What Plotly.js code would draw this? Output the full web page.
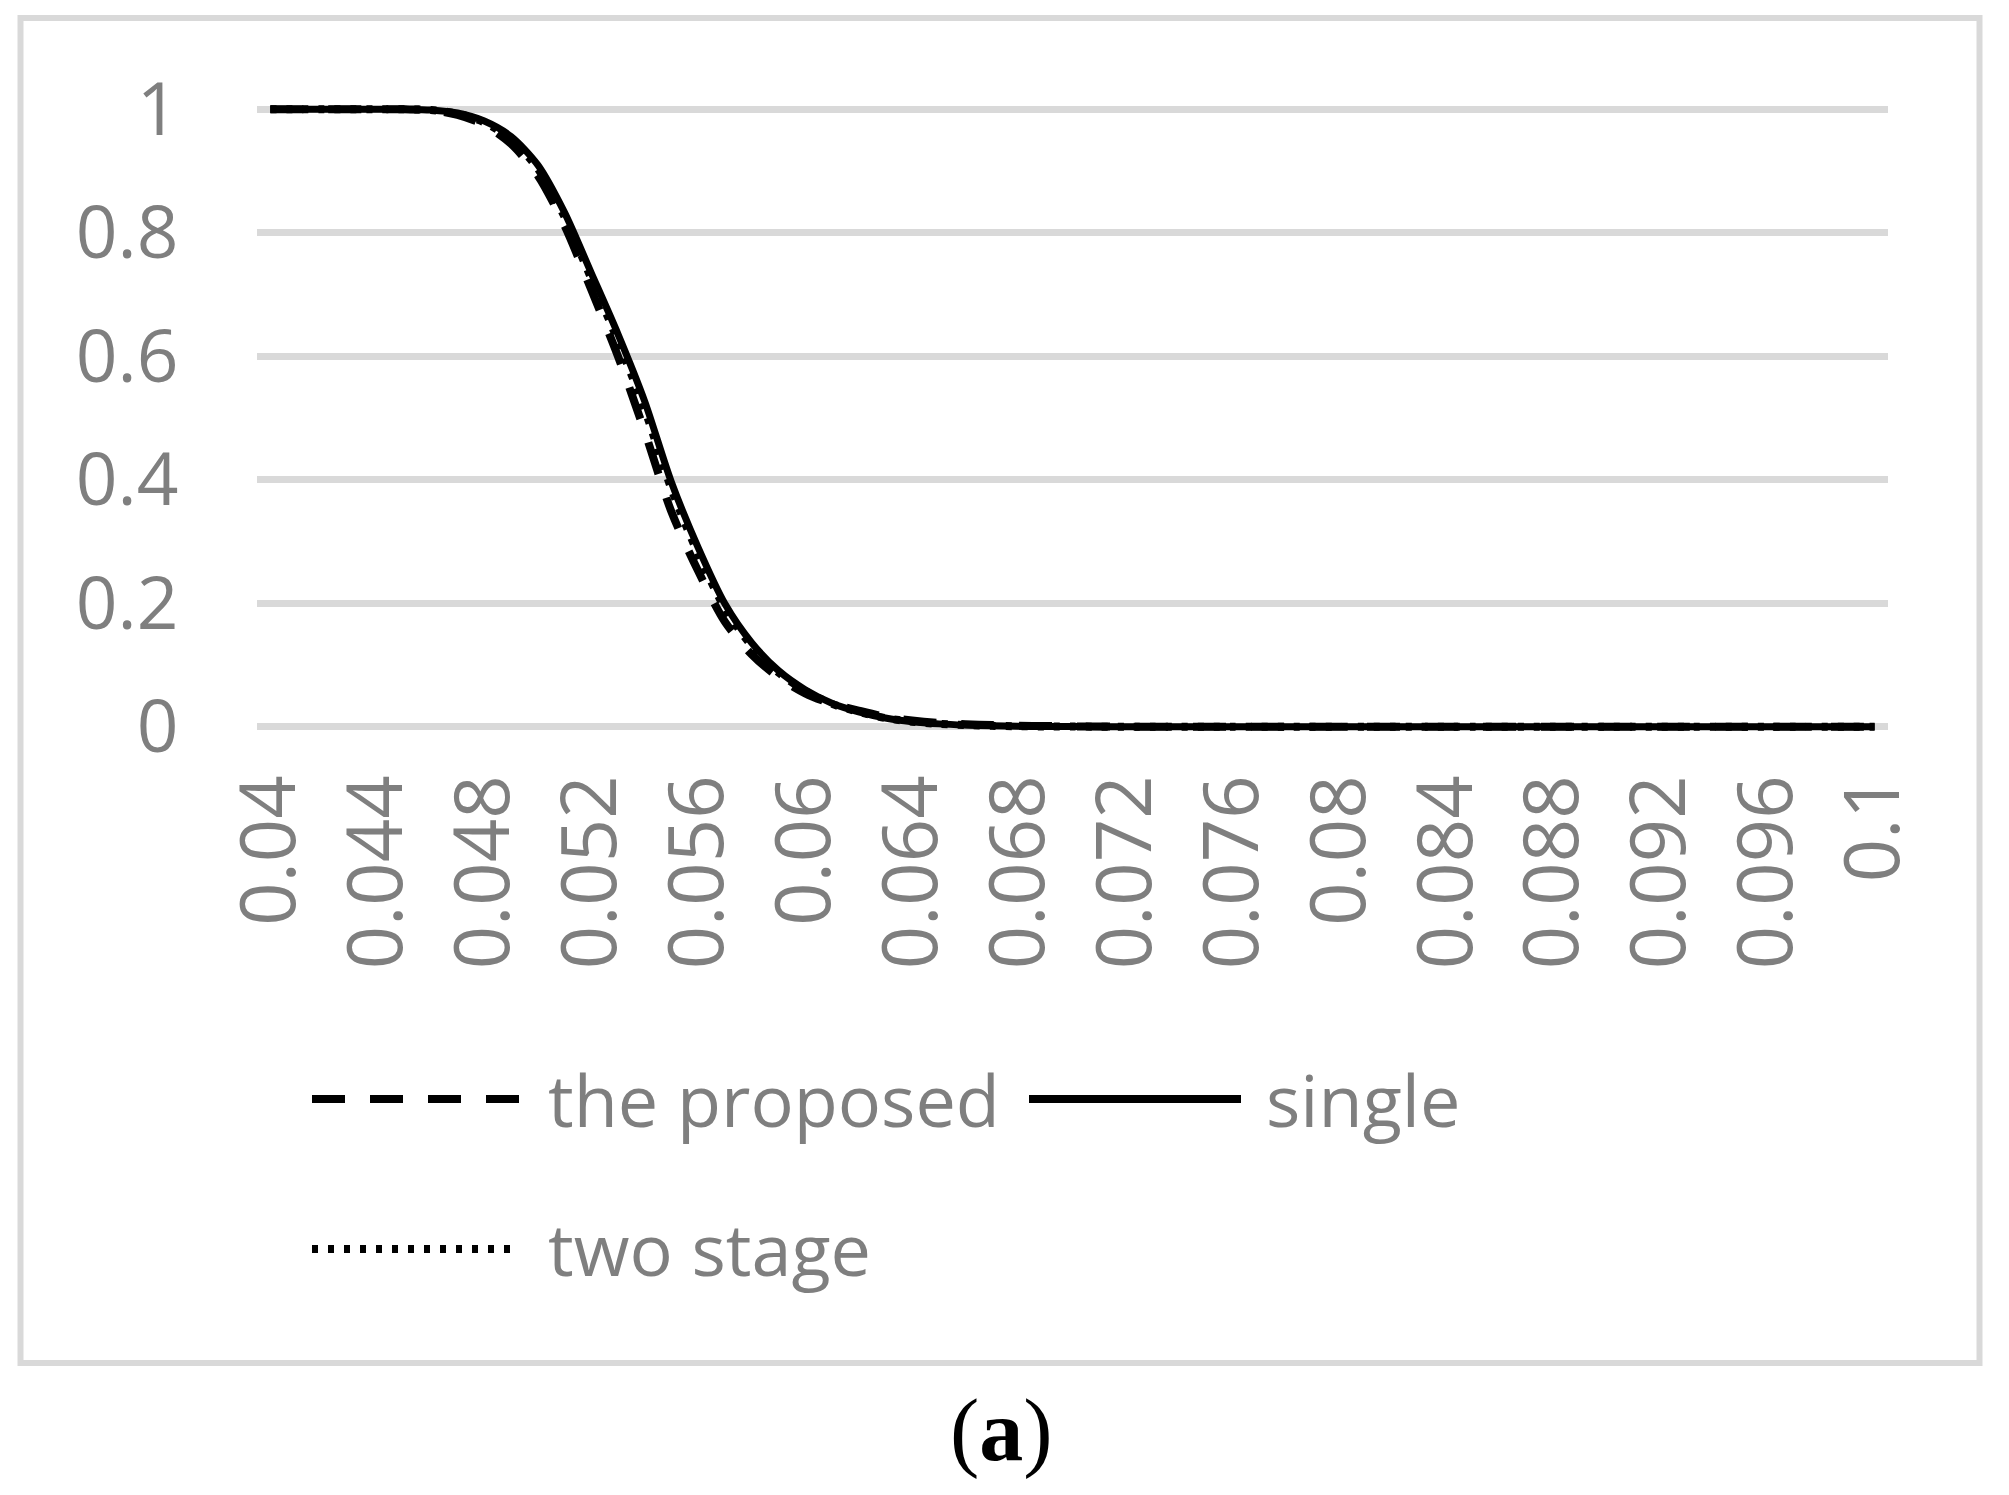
<!DOCTYPE html>
<html>
<head>
<meta charset="utf-8">
<script src="https://cdn.plot.ly/plotly-3.0.1.min.js"></script>
<style>
  html, body { margin: 0; padding: 0; background: #ffffff; }
  #chart { width: 2009px; height: 1495px; }
</style>
</head>
<body>
<div id="chart"></div>
<script>
// ---- data ----
var xValues = [
  0.040, 0.041, 0.042, 0.043, 0.044, 0.045, 0.046, 0.047, 0.048, 0.049,
  0.050, 0.051, 0.052, 0.053, 0.054, 0.055, 0.056, 0.057, 0.058, 0.059,
  0.060, 0.061, 0.062, 0.063, 0.064, 0.065, 0.066, 0.067, 0.068, 0.069,
  0.070, 0.071, 0.072, 0.073, 0.074, 0.075, 0.076, 0.077, 0.078, 0.079,
  0.080, 0.081, 0.082, 0.083, 0.084, 0.085, 0.086, 0.087, 0.088, 0.089,
  0.090, 0.091, 0.092, 0.093, 0.094, 0.095, 0.096, 0.097, 0.098, 0.099,
  0.100
];

var proposedValues = [
  1, 1, 1, 1, 1, 1, 0.999, 0.991, 0.975, 0.944,
  0.893, 0.812, 0.708, 0.600, 0.478, 0.348, 0.252, 0.170, 0.117, 0.080,
  0.054, 0.037, 0.026, 0.016, 0.010, 0.006, 0.004, 0.0025, 0.0015, 0.001,
  0.0005, 0.0003, 0, 0, 0, 0, 0, 0, 0, 0,
  0, 0, 0, 0, 0, 0, 0, 0, 0, 0,
  0, 0, 0, 0, 0, 0, 0, 0, 0, 0,
  0
];

var singleValues = [
  1, 1, 1, 1, 1, 1, 0.999, 0.994, 0.981, 0.956,
  0.910, 0.833, 0.735, 0.636, 0.527, 0.396, 0.290, 0.199, 0.136, 0.091,
  0.060, 0.038, 0.024, 0.014, 0.008, 0.0045, 0.0025, 0.0013, 0.0007, 0.0003,
  0.0001, 0, 0, 0, 0, 0, 0, 0, 0, 0,
  0, 0, 0, 0, 0, 0, 0, 0, 0, 0,
  0, 0, 0, 0, 0, 0, 0, 0, 0, 0,
  0
];

var twoStageValues = [
  1, 1, 1, 1, 1, 1, 0.999, 0.993, 0.979, 0.952,
  0.904, 0.826, 0.726, 0.625, 0.514, 0.385, 0.280, 0.192, 0.131, 0.088,
  0.058, 0.037, 0.024, 0.014, 0.008, 0.0045, 0.0025, 0.0013, 0.0007, 0.0003,
  0.0001, 0, 0, 0, 0, 0, 0, 0, 0, 0,
  0, 0, 0, 0, 0, 0, 0, 0, 0, 0,
  0, 0, 0, 0, 0, 0, 0, 0, 0, 0,
  0
];

var seriesNames = ["the proposed", "single", "two stage"];

var xTickVals = [0.040, 0.044, 0.048, 0.052, 0.056, 0.060, 0.064, 0.068,
                 0.072, 0.076, 0.080, 0.084, 0.088, 0.092, 0.096, 0.100];
var xTickText = ["0.04", "0.044", "0.048", "0.052", "0.056", "0.06", "0.064", "0.068",
                 "0.072", "0.076", "0.08", "0.084", "0.088", "0.092", "0.096", "0.1"];
var yTickVals = [0, 0.2, 0.4, 0.6, 0.8, 1];
var yTickText = ["0", "0.2", "0.4", "0.6", "0.8", "1"];

var captionText = "(<b>a</b>)";

// ---- layout geometry (pixels) ----
var W = 2009, H = 1495;
var mL = 257, mR = 121, mT = 97, mB = 756;
var plotW = W - mL - mR, plotH = H - mT - mB;
function px(x) { return (x - mL) / plotW; }
function py(y) { return (mT + plotH - y) / plotH; }

var gray = "#7f7f7f";
var gridGray = "#d9d9d9";
var yLabelFont = { family: "Open Sans, Noto Sans, sans-serif", size: 73, color: gray };
var xLabelFont = { family: "Open Sans, Noto Sans, sans-serif", size: 76, color: gray };
var legendFont = { family: "Open Sans, Noto Sans, sans-serif", size: 72, color: gray };

var traces = [
  { x: xValues, y: proposedValues, name: seriesNames[0], type: "scatter", mode: "lines",
    line: { color: "#000000", width: 8, dash: "33px,25px", shape: "spline", smoothing: 0.8 },
    hoverinfo: "skip" },
  { x: xValues, y: singleValues, name: seriesNames[1], type: "scatter", mode: "lines",
    line: { color: "#000000", width: 7, shape: "spline", smoothing: 0.8 },
    hoverinfo: "skip" },
  { x: xValues, y: twoStageValues, name: seriesNames[2], type: "scatter", mode: "lines",
    line: { color: "#000000", width: 8, dash: "6px,10px", shape: "spline", smoothing: 0.8 },
    hoverinfo: "skip" }
];

var shapes = [
  // outer chart border
  { type: "rect", xref: "paper", yref: "paper",
    x0: px(20.5), x1: px(1979.5), y0: py(1363), y1: py(18),
    line: { color: gridGray, width: 6 }, fillcolor: "rgba(0,0,0,0)", layer: "below" },
  // legend swatches
  { type: "line", xref: "paper", yref: "paper",
    x0: px(312), x1: px(519), y0: py(1099), y1: py(1099),
    line: { color: "#000000", width: 8, dash: "33px,25px" } },
  { type: "line", xref: "paper", yref: "paper",
    x0: px(1029), x1: px(1241), y0: py(1099), y1: py(1099),
    line: { color: "#000000", width: 8 } },
  { type: "line", xref: "paper", yref: "paper",
    x0: px(312), x1: px(519), y0: py(1249), y1: py(1249),
    line: { color: "#000000", width: 8, dash: "6px,10px" } }
];

var annotations = [
  { text: seriesNames[0], xref: "paper", yref: "paper", x: px(546), y: py(1099),
    xanchor: "left", yanchor: "middle", showarrow: false, font: legendFont },
  { text: seriesNames[1], xref: "paper", yref: "paper", x: px(1264), y: py(1099),
    xanchor: "left", yanchor: "middle", showarrow: false, font: legendFont },
  { text: seriesNames[2], xref: "paper", yref: "paper", x: px(546), y: py(1248),
    xanchor: "left", yanchor: "middle", showarrow: false, font: legendFont },
  { text: captionText, xref: "paper", yref: "paper", x: px(1001), y: py(1430),
    xanchor: "center", yanchor: "middle", showarrow: false,
    font: { family: "Liberation Serif, Times New Roman, serif", size: 88, color: "#000000" } }
];

var layout = {
  width: W, height: H,
  margin: { l: mL, r: mR, t: mT, b: mB, pad: 0 },
  paper_bgcolor: "#ffffff",
  plot_bgcolor: "#ffffff",
  showlegend: false,
  font: { family: "Open Sans, sans-serif", color: gray },
  xaxis: {
    type: "linear",
    range: [0.0395, 0.1005],
    tickmode: "array", tickvals: xTickVals, ticktext: xTickText,
    tickangle: -90,
    ticks: "outside", ticklen: 5, tickcolor: "rgba(0,0,0,0)",
    showgrid: false, zeroline: false, showline: false,
    tickfont: xLabelFont, fixedrange: true
  },
  yaxis: {
    range: [-0.02, 1.02],
    tickmode: "array", tickvals: yTickVals, ticktext: yTickText,
    ticks: "outside", ticklen: 63, tickcolor: "rgba(0,0,0,0)",
    showgrid: true, gridcolor: gridGray, gridwidth: 7,
    zeroline: false, showline: false,
    tickfont: yLabelFont, fixedrange: true
  },
  shapes: shapes,
  annotations: annotations
};

Plotly.newPlot("chart", traces, layout, { displayModeBar: false, staticPlot: true });
</script>
</body>
</html>
